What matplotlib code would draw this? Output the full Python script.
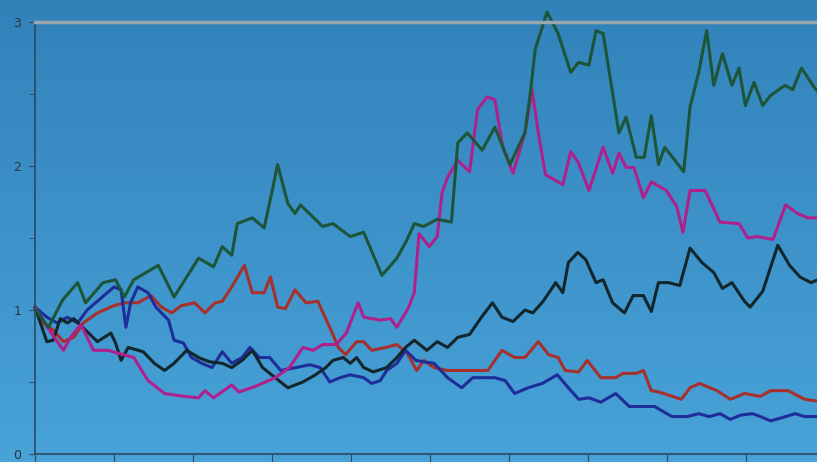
import numpy as np
import matplotlib
matplotlib.use("Agg")
import matplotlib.pyplot as plt

# series (x in steps 0..100, y = value)
green_x = [0, 1.7, 3.5, 5.4, 6.4, 8.6, 10.2, 11.3, 12.5, 15.6, 17.6, 20.7, 22.6, 23.7, 24.9,
           25.6, 27.5, 29.0, 30.1, 30.7, 32.0, 32.9, 33.6, 36.4, 37.7, 39.9, 41.6, 43.9, 45.8,
           47.1, 48.0, 49.2, 50.9, 52.7, 53.5, 54.7, 56.6, 58.2, 60.1, 62.0, 62.7, 63.3, 64.8,
           66.2, 67.8, 68.8, 70.1, 71.0, 71.9, 73.9, 74.8, 76.1, 77.1, 78.0, 78.9, 79.7, 82.1,
           82.9, 84.0, 85.0, 85.9, 87.0, 88.2, 89.1, 89.9, 91.0, 92.1, 93.1, 94.9, 95.9, 97.0,
           98.7, 100.0]
green_y = [1.01, 0.88, 1.07, 1.19, 1.05, 1.19, 1.21, 1.09, 1.21, 1.31, 1.09, 1.36, 1.30, 1.44, 1.38,
           1.60, 1.64, 1.57, 1.85, 2.01, 1.74, 1.67, 1.73, 1.58, 1.60, 1.51, 1.54, 1.24, 1.36,
           1.49, 1.60, 1.58, 1.63, 1.61, 2.16, 2.23, 2.11, 2.27, 2.01, 2.23, 2.51, 2.81, 3.07,
           2.92, 2.65, 2.72, 2.70, 2.94, 2.92, 2.23, 2.34, 2.06, 2.06, 2.35, 2.01, 2.13, 1.96,
           2.41, 2.65, 2.94, 2.56, 2.78, 2.56, 2.68, 2.42, 2.58, 2.42, 2.49, 2.56, 2.53, 2.68,
           2.54, 2.46]

magenta_x = [0, 1.3, 3.6, 4.5, 5.8, 7.4, 9.2, 10.5, 12.5, 14.3, 16.4, 18.9, 20.7, 21.5, 22.6,
             24.9, 25.8, 27.9, 30.4, 32.2, 33.9, 35.2, 36.4, 38.1, 39.4, 40.9, 41.6, 43.7, 45.0,
             45.8, 47.3, 48.0, 48.6, 49.9, 50.9, 51.5, 52.2, 53.5, 55.0, 56.0, 57.2, 58.2, 59.2,
             60.5, 62.0, 62.9, 63.7, 64.6, 66.8, 67.8, 68.8, 70.1, 71.9, 73.1, 73.9, 74.8, 75.8,
             77.0, 78.0, 79.9, 81.2, 82.0, 82.9, 84.8, 86.7, 89.1, 90.2, 91.4, 93.4, 95.0, 96.5,
             97.8, 99.4, 100.0]
magenta_y = [1.02, 0.90, 0.72, 0.81, 0.90, 0.72, 0.72, 0.70, 0.67, 0.51, 0.42, 0.40, 0.39, 0.44, 0.39,
             0.48, 0.43, 0.47, 0.53, 0.60, 0.74, 0.72, 0.76, 0.76, 0.84, 1.05, 0.95, 0.93, 0.94,
             0.88, 1.02, 1.12, 1.53, 1.44, 1.51, 1.81, 1.92, 2.04, 1.96, 2.39, 2.48, 2.46, 2.13,
             1.95, 2.23, 2.53, 2.23, 1.94, 1.87, 2.10, 2.02, 1.83, 2.13, 1.95, 2.09, 1.99, 1.99,
             1.78, 1.89, 1.83, 1.72, 1.54, 1.83, 1.83, 1.61, 1.60, 1.50, 1.51, 1.49, 1.73, 1.67,
             1.64, 1.64, 1.81]

black_x = [0, 1.5, 2.3, 3.2, 4.1, 4.9, 6.4, 7.9, 9.6, 10.2, 10.9, 11.8, 13.7, 15.1, 16.4, 17.6,
           19.2, 20.7, 22.1, 23.7, 24.9, 26.2, 27.5, 28.8, 30.4, 32.0, 33.9, 35.5, 36.8, 37.7,
           39.0, 39.9, 40.7, 41.6, 42.8, 44.5, 45.8, 46.9, 48.0, 49.6, 50.9, 52.2, 53.5, 55.0,
           56.5, 57.9, 59.1, 60.5, 62.0, 63.0, 64.3, 65.9, 66.8, 67.5, 68.7, 69.7, 71.0, 71.9,
           73.1, 74.6, 75.7, 77.0, 78.0, 78.9, 80.2, 81.6, 82.9, 84.4, 85.9, 87.0, 88.2, 89.8,
           90.5, 92.1, 94.0, 95.5, 96.8, 98.2, 99.1, 100.0]
black_y = [1.02, 0.78, 0.79, 0.94, 0.91, 0.94, 0.86, 0.78, 0.84, 0.77, 0.65, 0.74, 0.71, 0.63, 0.58, 0.63,
           0.72, 0.67, 0.64, 0.63, 0.60, 0.65, 0.72, 0.60, 0.53, 0.46, 0.50, 0.55, 0.60, 0.65,
           0.67, 0.63, 0.67, 0.60, 0.57, 0.60, 0.67, 0.74, 0.79, 0.72, 0.78, 0.74, 0.81, 0.83,
           0.95, 1.05, 0.95, 0.92, 1.00, 0.98, 1.06, 1.19, 1.12, 1.33, 1.40, 1.35, 1.19, 1.21,
           1.05, 0.98, 1.10, 1.10, 0.99, 1.19, 1.19, 1.17, 1.43, 1.33, 1.26, 1.15, 1.19, 1.06,
           1.02, 1.13, 1.45, 1.31, 1.23, 1.19, 1.21, 1.40]

red_x = [0, 1.0, 2.3, 3.6, 4.9, 6.1, 7.9, 10.0, 11.3, 13.0, 14.7, 16.0, 17.3, 18.5, 20.2, 21.5,
         22.8, 23.7, 24.9, 26.5, 27.5, 29.0, 29.8, 30.7, 31.7, 32.9, 34.3, 35.8, 37.3, 38.4,
         39.3, 40.7, 41.6, 42.6, 44.4, 45.8, 47.1, 48.3, 49.2, 50.5, 52.2, 55.2, 57.3, 59.1,
         60.7, 62.0, 63.7, 65.0, 66.2, 67.1, 68.8, 69.9, 71.6, 73.5, 74.4, 76.1, 77.0, 78.0,
         79.0, 81.8, 82.9, 84.1, 86.3, 88.0, 89.8, 91.8, 93.1, 95.3, 97.4, 100.0]
red_y = [1.02, 0.91, 0.86, 0.78, 0.81, 0.91, 0.98, 1.03, 1.05, 1.05, 1.10, 1.02, 0.98, 1.03, 1.05, 0.98,
         1.05, 1.06, 1.16, 1.31, 1.12, 1.12, 1.23, 1.02, 1.01, 1.14, 1.05, 1.06, 0.88, 0.74,
         0.69, 0.78, 0.78, 0.72, 0.74, 0.76, 0.70, 0.58, 0.65, 0.60, 0.58, 0.58, 0.58, 0.72,
         0.67, 0.67, 0.78, 0.69, 0.67, 0.58, 0.57, 0.65, 0.53, 0.53, 0.56, 0.56, 0.58, 0.44,
         0.43, 0.38, 0.46, 0.49, 0.44, 0.38, 0.42, 0.40, 0.44, 0.44, 0.38, 0.36]

blue_x = [0, 1.5, 2.8, 4.1, 5.4, 6.6, 8.3, 10.0, 10.9, 11.5, 12.1, 13.0, 14.3, 15.3, 16.0, 16.9,
          17.6, 18.8, 19.8, 21.1, 22.4, 23.7, 24.9, 26.2, 27.2, 28.4, 29.7, 31.1, 33.0, 34.8,
          36.1, 37.3, 38.6, 39.9, 41.6, 42.6, 43.7, 44.5, 45.8, 46.9, 48.2, 49.2, 50.5, 52.2,
          54.0, 55.4, 56.9, 58.2, 59.5, 60.7, 62.4, 64.2, 66.1, 67.5, 68.8, 70.1, 71.6, 73.5,
          75.2, 78.4, 80.6, 82.5, 84.0, 85.3, 86.7, 88.0, 89.3, 90.8, 91.8, 93.1, 94.4, 96.2,
          97.4, 100.0]
blue_y = [1.02, 0.95, 0.91, 0.95, 0.91, 1.00, 1.08, 1.16, 1.14, 0.88, 1.05, 1.16, 1.12, 1.02, 0.98, 0.93,
          0.79, 0.77, 0.67, 0.63, 0.60, 0.71, 0.63, 0.67, 0.74, 0.67, 0.67, 0.58, 0.60, 0.62,
          0.60, 0.50, 0.53, 0.55, 0.53, 0.49, 0.51, 0.58, 0.63, 0.72, 0.65, 0.64, 0.63, 0.53,
          0.46, 0.53, 0.53, 0.53, 0.51, 0.42, 0.46, 0.49, 0.55, 0.46, 0.38, 0.39, 0.36, 0.42,
          0.33, 0.33, 0.26, 0.26, 0.28, 0.26, 0.28, 0.24, 0.27, 0.28, 0.26, 0.23, 0.25, 0.28,
          0.26, 0.26]

y_ticks = [0, 1, 2, 3]
y_labels = ["0", "1", "2", "3"]

fig = plt.figure(figsize=(8.17, 4.62), dpi=100)

# vertical gradient background over the whole picture
bg = fig.add_axes([0, 0, 1, 1], zorder=0)
grad = np.linspace(0, 1, 256).reshape(-1, 1)
top = np.array([50, 130, 186]) / 255
bot = np.array([72, 163, 216]) / 255
img = top + (bot - top) * grad[:, :, None]
bg.imshow(img, aspect="auto", extent=[0, 1, 0, 1])
bg.axis("off")

ax = fig.add_axes([35 / 817, 8 / 462, 1 - 35 / 817 + 0.01, (454 - 22) / 462], zorder=1)
ax.patch.set_alpha(0)

series = [
    (red_x, red_y, "#a8302c"),
    (blue_x, blue_y, "#1e2d98"),
    (black_x, black_y, "#12262c"),
    (magenta_x, magenta_y, "#b0208c"),
    (green_x, green_y, "#1d5538"),
]
for xs, ys, col in series:
    ax.plot(xs, ys, color=col, lw=2.2, clip_on=False, solid_joinstyle="round")

ax.set_xlim(0, 100)
ax.set_ylim(0, 3)
ax.set_xticks(np.arange(0, 101, 10))
ax.set_xticklabels([])
ax.set_yticks(y_ticks)
ax.set_yticklabels(y_labels)
ax.set_yticks([0.5, 1.5, 2.5], minor=True)
ax.tick_params(axis="y", which="both", direction="out", length=4, color="#2a4a60",
               labelsize=9, labelcolor="#2a3440", pad=6)
ax.tick_params(axis="x", direction="out", length=6, color="#2a4a60")

for s in ["left", "bottom"]:
    ax.spines[s].set_color("#2a4a60")
    ax.spines[s].set_linewidth(1.2)
ax.spines["top"].set_color("#9aa6ad")
ax.spines["top"].set_linewidth(2.5)
ax.spines["right"].set_visible(False)

fig.savefig("out.png", dpi=100)
